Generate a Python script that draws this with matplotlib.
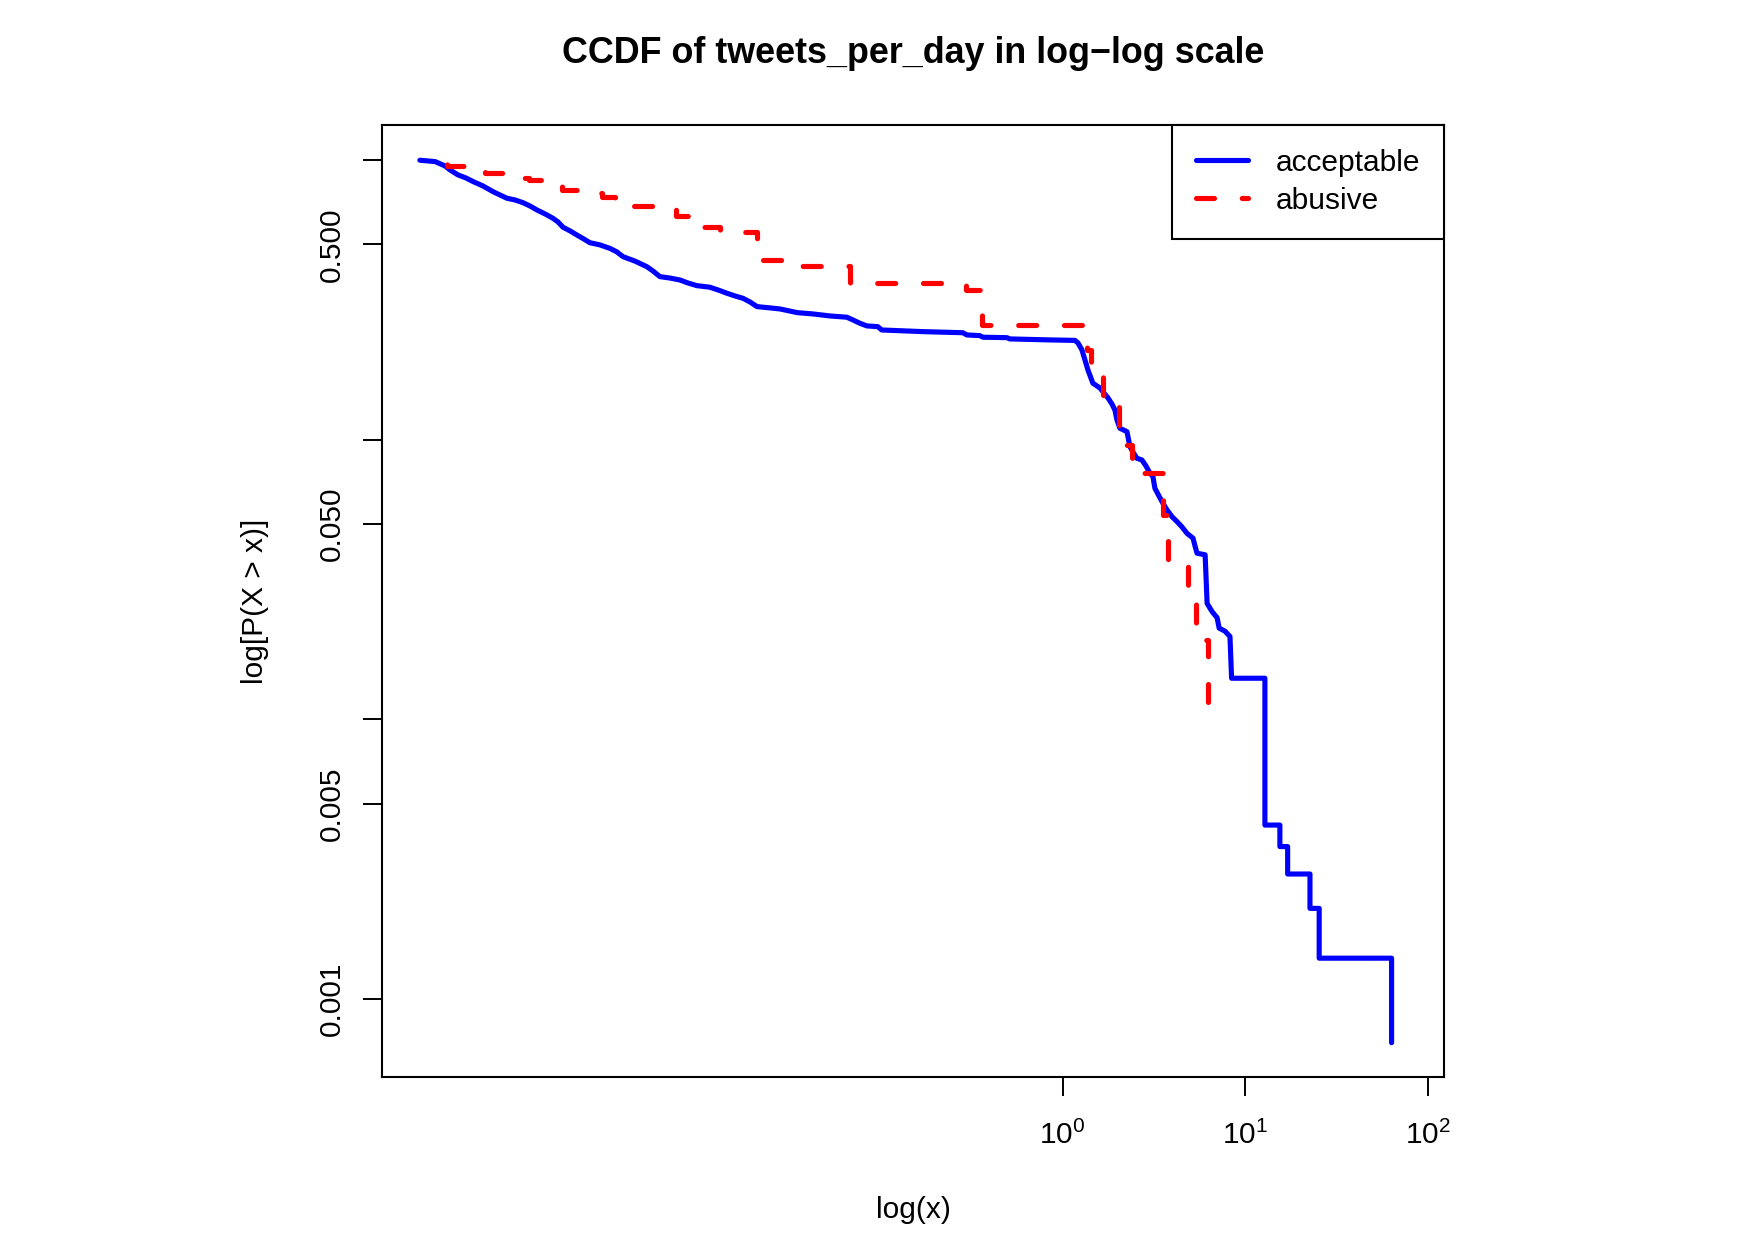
import numpy as np
import matplotlib
matplotlib.use('Agg')
import matplotlib.pyplot as plt
from matplotlib.ticker import FixedLocator, NullLocator

plt.rcParams['font.family'] = ['Liberation Sans', 'DejaVu Sans']
plt.rcParams['mathtext.fontset'] = 'custom'
plt.rcParams['mathtext.rm'] = 'Liberation Sans'
plt.rcParams['mathtext.it'] = 'Liberation Sans:italic'

# CCDF of tweets_per_day, acceptable users
acc_x = [3.03e-4, 3.67e-4, 4.16e-4, 4.43e-4, 4.90e-4, 5.42e-4, 5.92e-4, 6.71e-4,
         7.62e-4, 8.32e-4, 9.08e-4, 1.005e-3, 1.111e-3, 1.214e-3, 1.325e-3, 1.465e-3,
         1.621e-3, 1.726e-3, 1.840e-3, 2.010e-3, 2.195e-3, 2.366e-3, 2.583e-3, 2.929e-3,
         3.32e-3, 3.63e-3, 3.92e-3, 4.55e-3, 5.30e-3, 5.71e-3, 6.24e-3, 7.08e-3,
         8.03e-3, 8.88e-3, 9.95e-3, 1.172e-2, 1.297e-2, 1.453e-2, 1.607e-2, 1.778e-2,
         1.942e-2, 2.122e-2, 2.50e-2, 2.84e-2, 3.52e-2, 4.30e-2, 5.32e-2, 6.59e-2,
         7.11e-2, 7.76e-2, 8.48e-2, 9.73e-2, 0.1023, 0.1717, 0.2843, 0.299,
         0.352, 0.366, 0.495, 0.514, 0.852, 1.168, 1.213, 1.275,
         1.325, 1.375, 1.428, 1.464, 1.600, 1.683, 1.770, 1.861,
         1.932, 1.983, 2.058, 2.249, 2.336, 2.425, 2.551, 2.717,
         2.857, 3.005, 3.120, 3.200, 3.366, 3.540, 3.724, 3.969,
         4.227, 4.500, 4.794, 5.172, 5.305, 5.441, 6.025, 6.178,
         6.579, 7.010, 7.19, 7.73, 8.24, 8.41, 12.80, 12.80,
         15.46, 15.46, 17.05, 17.05, 22.59, 22.59, 25.37, 25.37,
         63.2, 63.2]
acc_p = [1.0, 0.989, 0.954, 0.923, 0.886, 0.864, 0.839, 0.809,
         0.772, 0.751, 0.731, 0.721, 0.705, 0.686, 0.664, 0.643,
         0.620, 0.602, 0.576, 0.559, 0.540, 0.525, 0.507, 0.498,
         0.484, 0.470, 0.452, 0.436, 0.416, 0.402, 0.3835, 0.379,
         0.373, 0.364, 0.356, 0.3514, 0.3437, 0.3344, 0.3271, 0.3208,
         0.3113, 0.2996, 0.2964, 0.2938, 0.2851, 0.2820, 0.2774, 0.2745,
         0.2684, 0.2612, 0.2555, 0.2540, 0.2471, 0.2438, 0.2416, 0.2372,
         0.2359, 0.2328, 0.2320, 0.2296, 0.2277, 0.2268, 0.2221, 0.2097,
         0.1931, 0.1778, 0.1665, 0.1594, 0.1533, 0.1471, 0.1413, 0.1344,
         0.1279, 0.1178, 0.1100, 0.1070, 0.0946, 0.0905, 0.0859, 0.0847,
         0.0807, 0.0760, 0.0739, 0.0671, 0.0630, 0.0593, 0.0562, 0.0531,
         0.0510, 0.0488, 0.0463, 0.0445, 0.0417, 0.0393, 0.0388, 0.0260,
         0.0243, 0.0231, 0.0212, 0.0207, 0.0198, 0.01404, 0.01404, 0.00419,
         0.00419, 0.00351, 0.00351, 0.00280, 0.00280, 0.00211, 0.00211, 0.00140,
         0.00140, 0.000698]

# CCDF of tweets_per_day, abusive users (step function)
abu_x = [3.81e-4, 4.01e-4, 4.27e-4, 5.56e-4, 6.89e-4, 1.005e-3, 1.111e-3, 1.199e-3,
         1.465e-3, 1.816e-3, 2.427e-3, 3.006e-3, 3.54e-3, 5.86e-3, 7.63e-3, 9.11e-3,
         1.061e-2, 1.332e-2, 2.122e-2, 2.29e-2, 3.02e-2, 6.85e-2, 0.2955, 0.3615,
         1.359, 1.428, 1.663, 2.032, 2.394, 3.540, 3.770, 4.850,
         5.358, 6.240]
abu_p = [1.0, 0.978, 0.956, 0.910, 0.899, 0.891, 0.862, 0.850,
         0.816, 0.783, 0.762, 0.737, 0.686, 0.668, 0.632, 0.603,
         0.576, 0.553, 0.458, 0.440, 0.420, 0.363, 0.344, 0.257,
         0.210, 0.185, 0.145, 0.0959, 0.0763, 0.0539, 0.0372, 0.0279,
         0.0192, 0.01155]

y_ticks = [1.0, 0.5, 0.1, 0.05, 0.01, 0.005, 0.001]
y_labels = ['', '0.500', '', '0.050', '', '0.005', '0.001']
x_ticks = [1, 10, 100]
x_labels = ['$10^{0}$', '$10^{1}$', '$10^{2}$']

fig = plt.figure(figsize=(17.54, 12.41), dpi=100)
ax = fig.add_axes([0.2178, 0.1322, 0.6057, 0.7671])

ax.plot(acc_x, acc_p, color='blue', lw=3.7,
        solid_capstyle='round', solid_joinstyle='round', label='acceptable')

# build the staircase (like R type="s") and draw it from the end backwards,
# so the dash pattern starts at the last point
sx = np.repeat(abu_x, 2)[1:]
sy = np.repeat(abu_p, 2)[:-1]
ax.plot(sx[::-1], sy[::-1], color='red', lw=3.7,
        linestyle=(0, (3.5, 5.4)), dash_capstyle='round', dash_joinstyle='round',
        label='abusive')

ax.set_xscale('log')
ax.set_yscale('log')
ax.set_xlim(1.88e-4, 123)
ax.set_ylim(5.265e-4, 1.337)

ax.xaxis.set_major_locator(FixedLocator(x_ticks))
ax.xaxis.set_minor_locator(NullLocator())
ax.set_xticklabels(x_labels)
ax.yaxis.set_major_locator(FixedLocator(y_ticks))
ax.yaxis.set_minor_locator(NullLocator())
ax.set_yticklabels(y_labels)

ax.tick_params(axis='both', direction='out', length=13.7, width=1.4, labelsize=21.5)
ax.tick_params(axis='x', pad=17.8)
ax.tick_params(axis='y', pad=16.6)
for lbl in ax.get_yticklabels():
    lbl.set_rotation(90)
    lbl.set_rotation_mode('anchor')
    lbl.set_ha('center')
    lbl.set_va('baseline')

for sp in ax.spines.values():
    sp.set_linewidth(1.5)

ax.set_title('CCDF of tweets_per_day in log\u2212log scale', fontsize=25.8,
             fontweight='bold', pad=44.4)
ax.set_xlabel('log(x)', fontsize=21.5, va='baseline')
ax.xaxis.set_label_coords(0.5, -0.1485)
ax.set_ylabel('log[P(X > x)]', fontsize=21.5, va='baseline')
ax.yaxis.set_label_coords(-0.1117, 0.5)

leg = ax.legend(loc='upper right', bbox_to_anchor=(1, 1), borderaxespad=0,
                fancybox=False, edgecolor='black', framealpha=1, fontsize=21.5,
                handlelength=1.74, handletextpad=0.95, borderpad=0.8,
                labelspacing=0.33)
leg.get_frame().set_linewidth(1.5)

fig.savefig('out.png', dpi=100)
